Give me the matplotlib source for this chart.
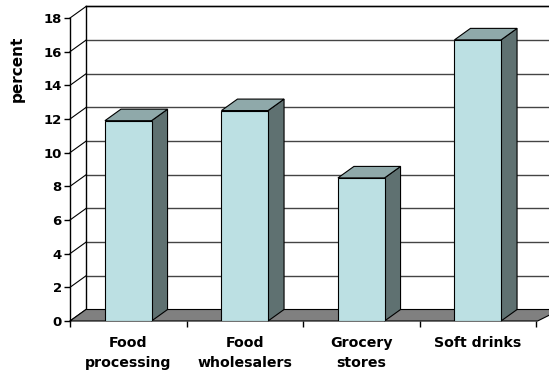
import matplotlib
matplotlib.use("Agg")
import matplotlib.pyplot as plt
from matplotlib.patches import Polygon

# Data
categories = ["Food\nprocessing", "Food\nwholesalers", "Grocery\nstores", "Soft drinks"]
values = [11.9, 12.5, 8.5, 16.7]
yticks = [0, 2, 4, 6, 8, 10, 12, 14, 16, 18]

# Colours
FRONT = "#BCE0E3"
SIDE = "#5F7171"
TOP = "#8FA9AA"
FLOOR = "#808080"
GRID = "#444444"

W, H = 549, 374
fig = plt.figure(figsize=(W / 100, H / 100), dpi=100)
ax = fig.add_axes([70 / W, 53 / H, 466 / W, 303 / H])
ax.set_xlim(0, len(categories))
ax.set_ylim(0, 18)

# depth offset of the 3D box, in data units
DX = 16 / 116.5
DY = 11.5 / 16.83
XR = (W - 70) / 116.5 + 0.1  # right end of the back wall (beyond the figure edge)

# back wall gridlines and top edge
for v in yticks[1:]:
    ax.plot([DX, XR], [v + DY, v + DY], color=GRID, lw=1.0, clip_on=False, zorder=1)
ax.plot([DX, DX], [DY, 18 + DY], color="black", lw=1.0, clip_on=False, zorder=1)
ax.plot([DX, XR], [18 + DY, 18 + DY], color="black", lw=1.0, clip_on=False, zorder=1)

# side wall diagonals
for v in yticks:
    ax.plot([0, DX], [v, v + DY], color="black", lw=0.8, clip_on=False, zorder=1)

# floor
floor = Polygon([(0, 0), (4 + DX * 0.1, 0), (XR, DY), (DX, DY)],
                closed=True, facecolor=FLOOR, edgecolor="black", lw=0.8,
                clip_on=False, zorder=2)
ax.add_patch(floor)

# bars
xs = [i + 0.5 for i in range(len(categories))]
bw = 0.4
ax.bar(xs, values, width=bw, color=FRONT, edgecolor="black", linewidth=0.8, zorder=4)
for x, v in zip(xs, values):
    r = x + bw / 2
    l = x - bw / 2
    side = Polygon([(r, 0), (r + DX, DY), (r + DX, v + DY), (r, v)], closed=True,
                   facecolor=SIDE, edgecolor="black", lw=0.8, zorder=3, clip_on=False)
    top = Polygon([(l, v), (r, v), (r + DX, v + DY), (l + DX, v + DY)], closed=True,
                  facecolor=TOP, edgecolor="black", lw=0.8, zorder=3, clip_on=False)
    ax.add_patch(side)
    ax.add_patch(top)

# axes styling
for s in ["top", "right", "bottom"]:
    ax.spines[s].set_visible(False)
ax.spines["left"].set_color("black")
ax.spines["left"].set_linewidth(1.0)
ax.spines["left"].set_zorder(5)

ax.set_yticks(yticks)
ax.set_yticklabels([str(t) for t in yticks], fontfamily="DejaVu Sans",
                   fontweight="bold", fontsize=9.5)
ax.tick_params(axis="y", length=4, width=1, pad=2)

ax.set_xticks(xs)
ax.set_xticklabels(categories, fontfamily="DejaVu Sans", fontweight="bold",
                   fontsize=10.2, linespacing=1.5)
ax.set_xticks(range(len(categories) + 1), minor=True)
ax.tick_params(axis="x", which="major", length=0, pad=11)
ax.tick_params(axis="x", which="minor", length=4, width=1)

fig.text(17 / W, 1 - 69 / H, "percent", rotation=90, ha="center", va="center",
         fontfamily="DejaVu Sans", fontweight="bold", fontsize=11)

fig.savefig("out.png", dpi=100)
